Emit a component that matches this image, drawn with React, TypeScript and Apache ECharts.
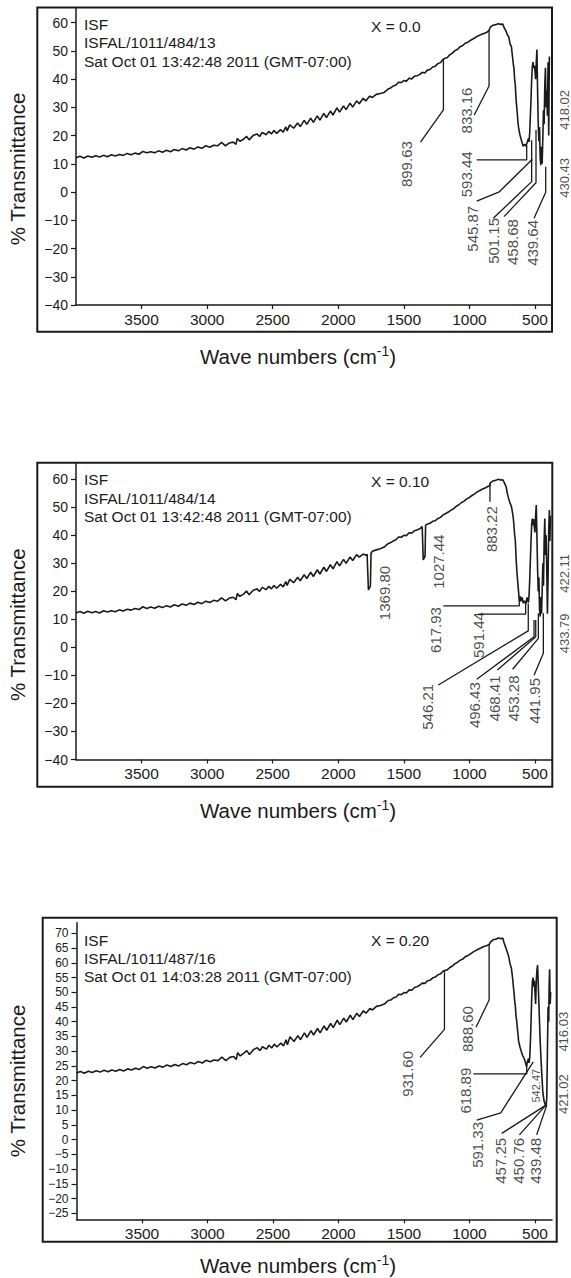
import React, { useEffect, useRef } from 'react';
import * as echarts from 'echarts';

// ---------- data ----------
const xTicks = [3500, 3000, 2500, 2000, 1500, 1000, 500];
const yTicksA = [-40, -30, -20, -10, 0, 10, 20, 30, 40, 50, 60];
const yTicksC = [-25, -20, -15, -10, -5, 0, 5, 10, 15, 20, 25, 30, 35, 40, 45, 50, 55, 60, 65, 70];

const headers1 = ['ISF', 'ISFAL/1011/484/13', 'Sat Oct 01 13:42:48 2011 (GMT-07:00)'];
const headers2 = ['ISF', 'ISFAL/1011/484/14', 'Sat Oct 01 13:42:48 2011 (GMT-07:00)'];
const headers3 = ['ISF', 'ISFAL/1011/487/16', 'Sat Oct 01 14:03:28 2011 (GMT-07:00)'];
const compositions = ['X = 0.0', 'X = 0.10', 'X = 0.20'];

// [wave number (cm-1), % transmittance]
const spectrum1 = [
  [4000, 12.2], [3970, 12.7], [3940, 12.1], [3910, 12.8], [3880, 12.3], [3850, 12.9], [3820, 12.4], [3790, 13.0],
  [3760, 12.5], [3730, 13.2], [3700, 12.8], [3670, 13.3], [3640, 13.0], [3610, 13.7], [3580, 13.2], [3550, 13.8],
  [3520, 13.4], [3490, 14.4], [3460, 13.9], [3430, 14.3], [3400, 13.9], [3370, 14.6], [3340, 14.1], [3310, 14.8],
  [3280, 14.3], [3250, 15.1], [3220, 14.6], [3190, 15.4], [3160, 14.9], [3130, 15.7], [3100, 15.2], [3070, 16.0],
  [3040, 15.5], [3010, 16.4], [2980, 15.9], [2950, 16.6], [2920, 16.4], [2890, 17.6], [2860, 16.4], [2830, 17.4],
  [2800, 17.7], [2780, 16.9], [2770, 19.0], [2750, 18.0], [2720, 18.8], [2700, 19.8], [2680, 18.5], [2650, 20.0],
  [2620, 20.6], [2600, 19.7], [2580, 21.1], [2550, 20.3], [2530, 21.5], [2510, 20.6], [2490, 21.8], [2470, 20.8],
  [2440, 22.1], [2420, 21.2], [2400, 23.1], [2390, 21.7], [2370, 23.8], [2340, 22.6], [2310, 24.5], [2290, 23.2],
  [2260, 25.4], [2240, 24.0], [2210, 26.2], [2190, 24.7], [2160, 27.0], [2140, 25.5], [2110, 27.9], [2090, 26.4],
  [2060, 28.7], [2040, 27.3], [2010, 29.8], [1990, 28.3], [1960, 30.5], [1940, 29.2], [1910, 31.5], [1890, 30.1],
  [1860, 32.3], [1840, 31.3], [1810, 33.2], [1790, 32.3], [1760, 34.0], [1740, 33.5], [1710, 34.6], [1680, 34.9],
  [1650, 35.3], [1620, 36.5], [1600, 36.9], [1580, 37.6], [1560, 37.9], [1540, 38.9], [1520, 38.8], [1500, 39.5],
  [1480, 39.3], [1460, 40.3], [1440, 40.1], [1420, 41.0], [1400, 41.2], [1380, 41.6], [1360, 42.4], [1340, 42.2],
  [1320, 43.2], [1300, 43.4], [1280, 44.3], [1260, 44.6], [1240, 45.5], [1220, 45.9], [1200, 47.0], [1190, 47.3],
  [1170, 47.6], [1150, 48.6], [1130, 49.2], [1110, 50.1], [1090, 50.6], [1070, 51.5], [1050, 51.9], [1030, 52.8],
  [1010, 53.1], [990, 53.8], [970, 54.3], [950, 54.9], [930, 55.4], [910, 55.8], [890, 56.2], [870, 56.5],
  [850, 57.3], [840, 58.4], [820, 59.1], [800, 59.3], [780, 59.6], [760, 59.4], [745, 59.5], [735, 58.2],
  [720, 57.0], [710, 55.6], [700, 55.0], [690, 52.5], [680, 51.6], [670, 47.5], [665, 45.2], [660, 43.8],
  [655, 40.0], [650, 37.9], [645, 33.5], [640, 30.6], [635, 28.0], [630, 25.0], [625, 22.9], [615, 20.4],
  [605, 18.6], [595, 17.0], [590, 16.2], [580, 16.9], [570, 16.3], [560, 17.5], [550, 19.0], [545, 17.8],
  [540, 21.0], [535, 27.0], [530, 33.0], [525, 40.0], [520, 44.5], [515, 46.0], [510, 44.0], [505, 44.8],
  [500, 43.0], [495, 40.0], [490, 46.0], [485, 50.5], [480, 36.0], [475, 24.0], [470, 18.0], [465, 23.0],
  [460, 12.0], [455, 9.5], [450, 16.0], [445, 10.0], [440, 19.0], [435, 29.0], [430, 24.0], [425, 38.0],
  [420, 44.0], [415, 30.0], [410, 36.0], [405, 27.0], [400, 46.0], [395, 20.0], [390, 48.0],
];

const spectrum2 = [
  [4000, 12.3], [3970, 12.8], [3940, 12.2], [3910, 12.9], [3880, 12.4], [3850, 12.8], [3820, 12.3], [3790, 13.1],
  [3760, 12.6], [3730, 13.1], [3700, 12.7], [3670, 13.4], [3640, 13.0], [3610, 13.6], [3580, 13.3], [3550, 13.9],
  [3520, 13.5], [3490, 14.5], [3460, 13.9], [3430, 14.4], [3400, 14.0], [3370, 14.7], [3340, 14.2], [3310, 14.9],
  [3280, 14.4], [3250, 15.2], [3220, 14.7], [3190, 15.5], [3160, 15.0], [3130, 15.8], [3100, 15.3], [3070, 16.1],
  [3040, 15.6], [3010, 16.5], [2980, 16.0], [2950, 16.8], [2920, 16.5], [2890, 17.7], [2860, 16.6], [2830, 17.6],
  [2800, 17.9], [2780, 17.0], [2770, 19.2], [2750, 18.2], [2720, 19.1], [2700, 20.1], [2680, 18.8], [2650, 20.3],
  [2620, 20.9], [2600, 20.0], [2580, 21.4], [2550, 20.6], [2530, 21.8], [2510, 20.9], [2490, 22.1], [2470, 21.1],
  [2440, 22.5], [2420, 21.6], [2400, 23.5], [2390, 22.1], [2370, 24.3], [2340, 23.1], [2310, 25.0], [2290, 23.8],
  [2260, 25.9], [2240, 24.6], [2210, 26.8], [2190, 25.3], [2160, 27.7], [2140, 26.2], [2110, 28.6], [2090, 27.1],
  [2060, 29.5], [2040, 28.0], [2010, 30.6], [1990, 29.1], [1960, 31.4], [1940, 30.0], [1910, 32.3], [1890, 31.0],
  [1860, 33.1], [1840, 32.2], [1810, 33.3], [1790, 32.9], [1780, 33.2], [1770, 20.5], [1755, 21.8], [1750, 33.6],
  [1740, 34.3], [1710, 34.8], [1680, 35.2], [1650, 35.8], [1620, 37.0], [1600, 37.4], [1580, 38.0], [1560, 38.4],
  [1540, 39.4], [1520, 39.3], [1500, 40.0], [1480, 39.9], [1460, 40.9], [1440, 40.8], [1420, 41.6], [1400, 41.9],
  [1380, 42.3], [1360, 43.1], [1352, 31.2], [1338, 32.6], [1334, 43.6], [1320, 44.0], [1300, 44.3], [1280, 45.0],
  [1260, 45.2], [1240, 46.0], [1220, 46.4], [1200, 47.3], [1180, 47.8], [1160, 48.3], [1140, 49.0], [1120, 49.5],
  [1100, 50.3], [1080, 50.9], [1060, 51.7], [1040, 52.2], [1020, 53.0], [1000, 53.5], [980, 54.2], [960, 54.8],
  [940, 55.5], [920, 56.0], [900, 56.5], [880, 56.9], [860, 57.4], [845, 57.7], [840, 58.7], [820, 59.4],
  [800, 59.6], [780, 60.0], [760, 59.7], [745, 59.8], [735, 58.9], [720, 57.4], [710, 54.8], [700, 53.0],
  [690, 51.5], [680, 50.4], [670, 47.8], [665, 46.0], [660, 43.5], [655, 40.2], [650, 38.3], [645, 33.0],
  [640, 28.5], [635, 25.5], [630, 22.5], [625, 20.0], [619, 16.0], [612, 18.2], [605, 16.5], [598, 17.8],
  [590, 15.8], [580, 16.6], [570, 15.4], [560, 17.8], [550, 16.0], [545, 18.5], [540, 24.0], [535, 31.0],
  [530, 38.0], [525, 44.0], [520, 46.0], [515, 43.5], [510, 45.8], [505, 43.0], [500, 41.0], [495, 47.0],
  [490, 50.8], [485, 40.0], [480, 28.0], [475, 20.0], [470, 25.0], [465, 13.5], [460, 11.0], [455, 18.0],
  [450, 12.0], [445, 20.0], [440, 30.0], [435, 22.0], [430, 38.0], [425, 46.0], [420, 33.0], [415, 40.0],
  [410, 28.0], [405, 12.0], [400, 25.0], [395, 42.0], [390, 49.0], [386, 38.0], [382, 47.0],
];

const spectrum3 = [
  [4000, 22.6], [3970, 23.1], [3940, 22.5], [3910, 23.2], [3880, 22.8], [3850, 23.4], [3820, 22.9], [3790, 23.5],
  [3760, 23.0], [3730, 23.6], [3700, 23.2], [3670, 23.8], [3640, 23.3], [3610, 24.0], [3580, 23.6], [3550, 24.2],
  [3520, 23.8], [3490, 24.8], [3460, 24.2], [3430, 24.7], [3400, 24.3], [3370, 25.0], [3340, 24.6], [3310, 25.3],
  [3280, 24.8], [3250, 25.5], [3220, 25.0], [3190, 25.8], [3160, 25.4], [3130, 26.2], [3100, 25.7], [3070, 26.5],
  [3040, 26.0], [3010, 26.9], [2980, 26.4], [2950, 27.0], [2920, 26.8], [2890, 28.0], [2860, 26.8], [2830, 27.9],
  [2800, 28.2], [2780, 27.2], [2770, 29.5], [2750, 28.4], [2720, 29.4], [2700, 30.2], [2680, 28.9], [2650, 30.5],
  [2620, 31.2], [2600, 30.2], [2580, 31.5], [2550, 30.7], [2530, 32.0], [2510, 31.1], [2490, 32.4], [2470, 31.4],
  [2440, 32.8], [2420, 31.8], [2400, 33.9], [2390, 32.2], [2370, 34.9], [2340, 33.3], [2310, 35.3], [2290, 33.9],
  [2260, 36.2], [2240, 34.7], [2210, 37.0], [2190, 35.5], [2160, 37.7], [2140, 36.2], [2110, 38.6], [2090, 37.1],
  [2060, 39.4], [2040, 38.0], [2010, 40.5], [1990, 39.0], [1960, 41.2], [1940, 39.9], [1910, 42.2], [1890, 40.7],
  [1860, 42.9], [1840, 41.8], [1810, 43.7], [1790, 42.9], [1760, 44.5], [1740, 44.0], [1710, 45.2], [1680, 45.5],
  [1650, 46.0], [1620, 47.2], [1600, 47.4], [1580, 48.1], [1560, 48.4], [1540, 49.3], [1520, 49.2], [1500, 49.9],
  [1480, 49.8], [1460, 50.8], [1440, 50.7], [1420, 51.6], [1400, 51.9], [1380, 52.4], [1360, 53.1], [1340, 53.0],
  [1320, 53.9], [1300, 54.1], [1280, 54.9], [1260, 55.2], [1240, 55.9], [1220, 56.3], [1200, 57.2], [1190, 57.4],
  [1170, 57.6], [1150, 58.4], [1130, 58.9], [1110, 59.7], [1090, 60.2], [1070, 60.9], [1050, 61.3], [1030, 62.1],
  [1010, 62.5], [990, 63.1], [970, 63.7], [950, 64.2], [930, 64.7], [910, 65.1], [890, 65.5], [870, 65.8],
  [850, 66.2], [840, 67.0], [820, 67.8], [800, 68.0], [780, 68.4], [760, 68.2], [745, 68.3], [735, 66.6],
  [720, 64.8], [710, 63.5], [700, 62.0], [690, 59.6], [680, 58.2], [670, 54.5], [665, 52.0], [660, 50.0],
  [655, 47.0], [650, 45.5], [645, 42.0], [640, 40.5], [635, 38.0], [630, 36.0], [625, 33.5], [615, 31.5],
  [605, 30.0], [595, 28.6], [585, 27.8], [575, 26.6], [565, 24.8], [560, 26.0], [550, 27.5], [545, 26.0],
  [540, 28.0], [535, 33.0], [530, 40.0], [525, 48.0], [520, 53.5], [515, 55.0], [510, 52.0], [505, 54.0],
  [500, 50.0], [495, 46.0], [490, 54.0], [485, 57.5], [480, 59.2], [470, 46.0], [460, 33.0], [450, 24.0],
  [440, 16.0], [430, 13.0], [420, 11.7], [415, 11.5], [410, 14.0], [405, 30.0], [400, 45.0], [395, 40.0],
  [392, 52.0], [388, 57.8], [384, 46.0], [380, 50.0],
];

// peak annotations: label anchor [wn, T] and leader polyline, both in data units
const peaks1 = [
  { text: '899.63', at: [1483, 9.9], leader: [[1198, 47.0], [1198, 29.1], [1373, 17.7]] },
  { text: '833.16', at: [1022, 28.9], leader: [[850, 57.5], [850, 37.6], [963, 27.3]] },
  { text: '593.44', at: [1024, 6.3], leader: [[944, 11.4], [563, 11.4], [563, 16.7]] },
  { text: '545.87', at: [978, -13.0], leader: [[944, -3.2], [772, 0.1], [520, 11.6]] },
  { text: '501.15', at: [815, -17.3], leader: [[818, -9.3], [525, 3.7], [525, 18.4]] },
  { text: '458.68', at: [675, -17.7], leader: [[736, -8.7], [492, 3.3], [492, 22.0]] },
  { text: '439.64', at: [519, -18.0], leader: [[507, -9.3], [418, -0.1], [418, 9.0]] },
  { text: '430.43', at: [278, 5.0], leader: [] },
  { text: '418.02', at: [278, 29.1], leader: [] },
];
const peaks2 = [
  { text: '1369.80', at: [1647, 19.4], leader: [] },
  { text: '1027.44', at: [1239, 30.6], leader: [] },
  { text: '883.22', at: [835, 42.2], leader: [[843, 58.6], [843, 52.0]] },
  { text: '617.93', at: [1256, 6.2], leader: [[1199, 14.8], [619, 14.8], [619, 16.0]] },
  { text: '591.44', at: [934, 4.4], leader: [[932, 11.9], [571, 11.9], [571, 15.5]] },
  { text: '546.21', at: [1319, -21.2], leader: [[1237, -13.4], [551, 5.9], [551, 15.7]] },
  { text: '496.43', at: [963, -20.6], leader: [[944, -11.4], [507, 3.8], [507, 9.8]] },
  { text: '468.41', at: [805, -18.2], leader: [[787, -8.1], [494, 3.8], [494, 9.8]] },
  { text: '453.28', at: [665, -18.2], leader: [[670, -7.8], [474, 3.2], [474, 12.2]] },
  { text: '441.95', at: [506, -19.1], leader: [[507, -9.9], [436, -2.1], [436, 12.2]] },
  { text: '433.79', at: [278, 5.0], leader: [] },
  { text: '422.11', at: [278, 26.4], leader: [] },
];
const peaks3 = [
  { text: '931.60', at: [1472, 22.3], leader: [[1191, 57.2], [1191, 37.4], [1377, 27.9]] },
  { text: '888.60', at: [1017, 37.5], leader: [[850, 66.2], [850, 47.4], [950, 38.1]] },
  { text: '618.89', at: [1027, 16.6], leader: [[970, 22.3], [563, 22.3], [563, 25.5]] },
  { text: '591.33', at: [938, -1.8], leader: [[944, 6.6], [761, 9.1], [513, 26.4]] },
  { text: '542.47', at: [494, 18.3], leader: [] },
  { text: '457.25', at: [763, -7.2], leader: [[754, 2.1], [416, 11.7]] },
  { text: '450.76', at: [624, -7.2], leader: [[619, 1.6], [416, 11.7]] },
  { text: '439.48', at: [494, -7.2], leader: [[487, 1.6], [410, 11.7]] },
  { text: '421.02', at: [284, 15.4], leader: [] },
  { text: '416.03', at: [284, 36.6], leader: [] },
];
const smallLabels = ['542.47'];
const edgeLabels = ['430.43', '418.02', '433.79', '422.11', '421.02', '416.03'];

// ---------- layout / style ----------
const FONT = '"Liberation Sans", Arial, Helvetica, sans-serif';
const INK = '#1a1a1a';

const panels = [
  {
    grid: { left: 76, top: 8, width: 476, height: 297 }, yMin: -40, yMax: 65.2, yTicks: yTicksA, yFont: 14,
    frame: { x: 37.3, y: 7.5, width: 514.7, height: 324.2 }, headY: [24, 42.7, 61], xEqY: 26.7, yTitleY: 169, xTitleY: 356,
    headers: headers1, spectrum: spectrum1, peaks: peaks1,
  },
  {
    grid: { left: 76, top: 463, width: 476, height: 296.5 }, yMin: -40, yMax: 65.8, yTicks: yTicksA, yFont: 14,
    frame: { x: 37.3, y: 462.7, width: 515, height: 324 }, headY: [479.3, 498.3, 516], xEqY: 481.7, yTitleY: 624.7, xTitleY: 810,
    headers: headers2, spectrum: spectrum2, peaks: peaks2,
  },
  {
    grid: { left: 76.5, top: 922.7, width: 475.5, height: 296.6 }, yMin: -27.04, yMax: 73.6, yTicks: yTicksC, yFont: 12,
    frame: { x: 42.7, y: 917.7, width: 514, height: 324 }, headY: [940, 958.3, 976.7], xEqY: 940.7, yTitleY: 1081, xTitleY: 1265,
    headers: headers3, spectrum: spectrum3, peaks: peaks3,
  },
];

const fmtY = (v: number) => (v < 0 ? '\u2212' + Math.abs(v) : String(v));
const fmtX = (v: number) => String(v);

function buildOption() {
  const grid = panels.map((p) => ({ ...p.grid }));
  const xAxis = panels.map((p, i) => ({
    type: 'value', gridIndex: i, min: 370, max: 4000, inverse: true,
    axisLine: { show: true, onZero: false, lineStyle: { color: INK, width: 1.5 } },
    axisTick: { show: true, length: 4, customValues: xTicks, lineStyle: { color: INK, width: 1.2 } },
    axisLabel: { show: true, customValues: xTicks, fontSize: 15.5, margin: 6, color: INK, fontFamily: FONT, formatter: fmtX },
    splitLine: { show: false },
  }));
  const yAxis = panels.map((p, i) => ({
    type: 'value', gridIndex: i, min: p.yMin, max: p.yMax,
    axisLine: { show: true, onZero: false, lineStyle: { color: INK, width: 1.5 } },
    axisTick: { show: true, length: 5, customValues: p.yTicks, lineStyle: { color: INK, width: 1.2 } },
    axisLabel: { show: true, customValues: p.yTicks, fontSize: p.yFont, margin: 8, color: INK, fontFamily: FONT, formatter: fmtY },
    splitLine: { show: false },
  }));

  const series: any[] = [];
  panels.forEach((p, i) => {
    series.push({
      type: 'line', xAxisIndex: i, yAxisIndex: i, data: p.spectrum, symbol: 'none', showSymbol: false,
      lineStyle: { color: INK, width: 1.6 }, z: 3, silent: true,
    });
    p.peaks.forEach((pk) => {
      if (pk.leader.length) {
        series.push({
          type: 'line', xAxisIndex: i, yAxisIndex: i, data: pk.leader, symbol: 'none', showSymbol: false,
          lineStyle: { color: INK, width: 1.3 }, z: 2, silent: true,
        });
      }
    });
    series.push({
      type: 'scatter', xAxisIndex: i, yAxisIndex: i, clip: false, symbolSize: 1, silent: true,
      itemStyle: { color: 'rgba(0,0,0,0)' },
      data: p.peaks.map((pk) => ({
        name: pk.text, value: pk.at,
        label: smallLabels.includes(pk.text) ? { fontSize: 11 } : edgeLabels.includes(pk.text) ? { fontSize: 13 } : undefined,
      })),
      label: { show: true, position: 'inside', rotate: 90, formatter: '{b}', fontSize: 15, color: INK, fontFamily: FONT },
      z: 4,
    });
  });

  const graphic: any[] = [];
  panels.forEach((p, i) => {
    graphic.push({
      type: 'rect', shape: { ...p.frame }, silent: true,
      style: { fill: 'none', stroke: INK, lineWidth: 2 },
    });
    p.headers.forEach((t, k) => {
      graphic.push({
        type: 'text', x: 84, y: p.headY[k], silent: true,
        style: { text: t, fill: INK, fontSize: 15.5, fontFamily: FONT, align: 'left', verticalAlign: 'middle', textAlign: 'left', textVerticalAlign: 'middle' },
      });
    });
    graphic.push({
      type: 'text', x: 371, y: p.xEqY, silent: true,
      style: { text: compositions[i], fill: INK, fontSize: 15.5, fontFamily: FONT, align: 'left', verticalAlign: 'middle', textAlign: 'left', textVerticalAlign: 'middle' },
    });
    graphic.push({
      type: 'text', x: 17, y: p.yTitleY, rotation: Math.PI / 2, silent: true,
      style: { text: '% Transmittance', fill: INK, fontSize: 20.5, fontFamily: FONT, align: 'center', verticalAlign: 'middle', textAlign: 'center', textVerticalAlign: 'middle' },
    });
    graphic.push({
      type: 'text', x: 298, y: p.xTitleY, silent: true,
      style: {
        text: '{a|Wave numbers (cm}{s|-1}{a|)}', fill: INK, fontFamily: FONT, fontSize: 20.5,
        align: 'center', verticalAlign: 'middle', textAlign: 'center', textVerticalAlign: 'middle',
        rich: {
          a: { fontSize: 20.5, fontFamily: FONT, fill: INK, lineHeight: 24 },
          s: { fontSize: 14, fontFamily: FONT, fill: INK, verticalAlign: 'top' },
        },
      },
    });
  });

  return {
    animation: false,
    backgroundColor: '#ffffff',
    textStyle: { fontFamily: FONT, color: INK },
    grid, xAxis, yAxis, series, graphic,
  };
}

export default function App() {
  const ref = useRef<HTMLDivElement>(null);
  useEffect(() => {
    document.body.style.margin = '0';
    const chart = echarts.init(ref.current as HTMLDivElement, null, { renderer: 'svg' });
    chart.setOption(buildOption() as any);
    return () => chart.dispose();
  }, []);
  return <div ref={ref} style={{ width: 571, height: 1278 }} />;
}
